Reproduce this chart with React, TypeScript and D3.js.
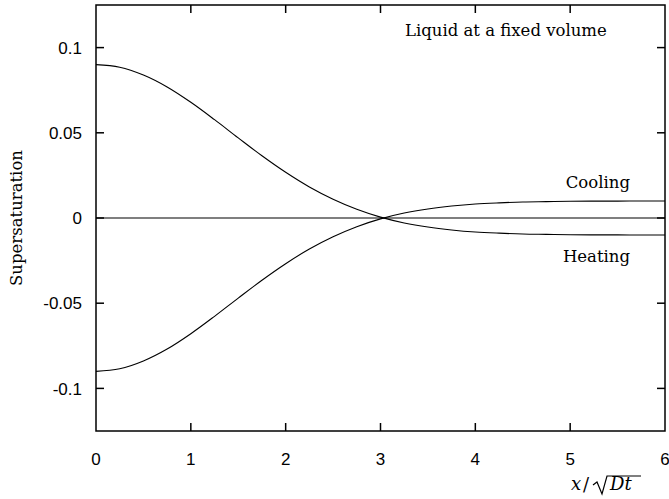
import React, { useEffect, useRef } from "react";
import * as d3 from "d3";

// positions along x / sqrt(Dt)
const xPos = [
  0, 0.25, 0.5, 0.75, 1, 1.25, 1.5, 1.75, 2, 2.25, 2.5, 2.75, 3, 3.25, 3.5,
  3.75, 4, 4.25, 4.5, 4.75, 5, 5.25, 5.5, 5.75, 6,
];
const heating = [
  0.09, 0.0885, 0.0839, 0.0769, 0.0679, 0.0577, 0.047, 0.0365, 0.0268, 0.0182,
  0.011, 0.0051, 0.0005, -0.0029, -0.0053, -0.007, -0.0082, -0.0089, -0.0094,
  -0.0096, -0.0098, -0.0099, -0.0099, -0.01, -0.01,
];
const cooling = [
  -0.09, -0.0885, -0.0839, -0.0769, -0.0679, -0.0577, -0.047, -0.0365, -0.0268,
  -0.0182, -0.011, -0.0051, -0.0005, 0.0029, 0.0053, 0.007, 0.0082, 0.0089,
  0.0094, 0.0096, 0.0098, 0.0099, 0.0099, 0.01, 0.01,
];
const baseX = [0, 6];
const baseY = [0, 0];

const xTicks = [0, 1, 2, 3, 4, 5, 6];
const yTicks = [-0.1, -0.05, 0, 0.05, 0.1];
const yTickLabels = ["-0.1", "-0.05", "0", "0.05", "0.1"];

export default function App() {
  const svgRef = useRef(null);

  useEffect(() => {
    const width = 669;
    const height = 499;
    const left = 96;
    const right = 665;
    const top = 5;
    const bottom = 431;
    const tick = 8;
    const sans = "'Liberation Sans', Arial, sans-serif";
    const serif = "'DejaVu Serif', serif";

    const x = d3.scaleLinear().domain([0, 6]).range([left, right]);
    const y = d3.scaleLinear().domain([-0.125, 0.125]).range([bottom, top]);

    const svg = d3.select(svgRef.current);
    svg.selectAll("*").remove();
    svg.attr("width", width).attr("height", height);

    const line = d3
      .line()
      .x((d) => x(d[0]))
      .y((d) => y(d[1]))
      .curve(d3.curveCatmullRom);

    // curves
    const series = [
      d3.zip(baseX, baseY),
      d3.zip(xPos, heating),
      d3.zip(xPos, cooling),
    ];
    svg
      .append("g")
      .selectAll("path")
      .data(series)
      .join("path")
      .attr("d", (d) => line(d))
      .attr("fill", "none")
      .attr("stroke", "#000")
      .attr("stroke-width", 1.1);

    // ticks, mirrored on all four sides
    const ticks = svg.append("g").attr("stroke", "#000").attr("stroke-width", 1.5);
    xTicks.slice(1, -1).forEach((t) => {
      ticks.append("line").attr("x1", x(t)).attr("x2", x(t)).attr("y1", bottom).attr("y2", bottom - tick);
      ticks.append("line").attr("x1", x(t)).attr("x2", x(t)).attr("y1", top).attr("y2", top + tick);
    });
    yTicks.forEach((t) => {
      ticks.append("line").attr("x1", left).attr("x2", left + tick).attr("y1", y(t)).attr("y2", y(t));
      ticks.append("line").attr("x1", right).attr("x2", right - tick).attr("y1", y(t)).attr("y2", y(t));
    });

    // frame
    svg
      .append("rect")
      .attr("x", left)
      .attr("y", top)
      .attr("width", right - left)
      .attr("height", bottom - top)
      .attr("fill", "none")
      .attr("stroke", "#000")
      .attr("stroke-width", 1.5);

    // tick labels
    svg
      .append("g")
      .selectAll("text")
      .data(xTicks)
      .join("text")
      .attr("x", (d) => x(d))
      .attr("y", bottom + 34)
      .attr("text-anchor", "middle")
      .style("font", `17px ${sans}`)
      .text((d) => d);

    svg
      .append("g")
      .selectAll("text")
      .data(yTicks)
      .join("text")
      .attr("x", left - 14)
      .attr("y", (d) => y(d))
      .attr("dy", "0.36em")
      .attr("text-anchor", "end")
      .style("font", `17px ${sans}`)
      .text((d, i) => yTickLabels[i]);

    // annotations
    const notes = svg.append("g").style("font", `16.5px ${serif}`);
    notes.append("text").attr("x", 405).attr("y", 36).text("Liquid at a fixed volume");
    notes.append("text").attr("x", 630).attr("y", 188).attr("text-anchor", "end").text("Cooling");
    notes.append("text").attr("x", 630).attr("y", 262).attr("text-anchor", "end").text("Heating");

    // y axis title
    svg
      .append("text")
      .attr("transform", `translate(22,${(top + bottom) / 2}) rotate(-90)`)
      .attr("text-anchor", "middle")
      .style("font", `16.5px ${serif}`)
      .text("Supersaturation");

    // x axis title: x / sqrt(Dt), radical drawn as a path
    const xl = svg.append("g").style("font", `18px ${serif}`);
    xl.append("text").attr("x", 571).attr("y", 490).style("font-style", "italic").text("x");
    xl.append("text").attr("x", 583).attr("y", 491).text("/");
    xl.append("text").attr("x", 610).attr("y", 490).style("font-style", "italic").text("Dt");
    xl.append("path")
      .attr("d", "M593,485 L597,482 L602,494 L607,476 L641,476")
      .attr("fill", "none")
      .attr("stroke", "#000")
      .attr("stroke-width", 1.2)
      .attr("stroke-linejoin", "miter");
  }, []);

  return (
    <svg
      ref={svgRef}
      style={{ position: "absolute", left: 0, top: 0, background: "#fff" }}
    />
  );
}
